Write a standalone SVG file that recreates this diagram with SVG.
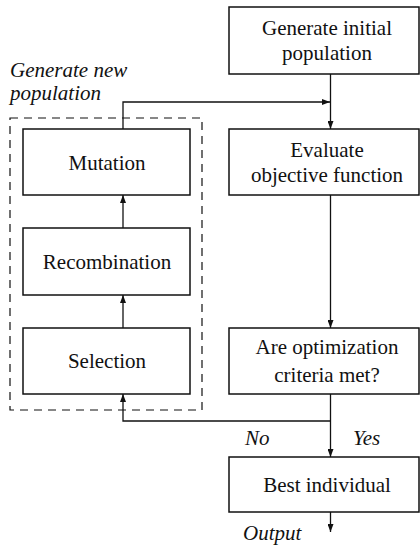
<svg xmlns="http://www.w3.org/2000/svg" width="420" height="547" viewBox="0 0 420 547">
<style>
.box{fill:#fff;stroke:#111;stroke-width:1.5}
.c{fill:none;stroke:#111;stroke-width:1.3}
.dash{fill:none;stroke:#111;stroke-width:1.2;stroke-dasharray:8 6}
</style>
<defs>
<marker id="ah" markerWidth="8" markerHeight="6" refX="8" refY="3" orient="auto" markerUnits="userSpaceOnUse">
<path d="M0,0 L8,3 L0,6 Z" fill="#111"/>
</marker>
</defs>
<g id="group-new-population">
<rect class="dash" x="10" y="118" width="192" height="292"/>
<text x="10" y="77" style="font-family:'Liberation Serif';font-size:21px;font-style:italic" fill="#111">Generate new</text>
<text x="10" y="100" style="font-family:'Liberation Serif';font-size:21px;font-style:italic" fill="#111">population</text>
</g>
<g id="connectors">
<line class="c" x1="330.5" y1="74" x2="330.5" y2="129" marker-end="url(#ah)"/>
<polyline class="c" points="123,129 123,102 330,102" marker-end="url(#ah)"/>
<line class="c" x1="330.5" y1="195" x2="330.5" y2="328" marker-end="url(#ah)"/>
<line class="c" x1="330.5" y1="394" x2="330.5" y2="457" marker-end="url(#ah)"/>
<polyline class="c" points="330.5,421 123,421 123,394" marker-end="url(#ah)"/>
<line class="c" x1="123" y1="328" x2="123" y2="295" marker-end="url(#ah)"/>
<line class="c" x1="123" y1="228" x2="123" y2="195" marker-end="url(#ah)"/>
<line class="c" x1="330.5" y1="512" x2="330.5" y2="532" marker-end="url(#ah)"/>
<text x="245" y="445" style="font-family:'Liberation Serif';font-size:21px;font-style:italic" fill="#111">No</text>
<text x="353" y="445" style="font-family:'Liberation Serif';font-size:21px;font-style:italic" fill="#111">Yes</text>
<text x="243" y="540" style="font-family:'Liberation Serif';font-size:21px;font-style:italic" fill="#111">Output</text>
</g>
<g id="generate-initial">
<rect class="box" x="229" y="7" width="190" height="67"/>
<text x="327" y="35" style="font-family:'Liberation Serif';font-size:21px" text-anchor="middle" fill="#111">Generate initial</text>
<text x="327" y="60" style="font-family:'Liberation Serif';font-size:21px" text-anchor="middle" fill="#111">population</text>
</g>
<g id="evaluate">
<rect class="box" x="229" y="129" width="190" height="66"/>
<text x="327" y="157" style="font-family:'Liberation Serif';font-size:21px" text-anchor="middle" fill="#111">Evaluate</text>
<text x="327" y="182" style="font-family:'Liberation Serif';font-size:21px" text-anchor="middle" fill="#111">objective function</text>
</g>
<g id="criteria">
<rect class="box" x="229" y="328" width="190" height="66"/>
<text x="327" y="354" style="font-family:'Liberation Serif';font-size:21px" text-anchor="middle" fill="#111">Are optimization</text>
<text x="327" y="382" style="font-family:'Liberation Serif';font-size:21px" text-anchor="middle" fill="#111">criteria met?</text>
</g>
<g id="best">
<rect class="box" x="229" y="457" width="190" height="55"/>
<text x="327" y="492" style="font-family:'Liberation Serif';font-size:21px" text-anchor="middle" fill="#111">Best individual</text>
</g>
<g id="mutation">
<rect class="box" x="23" y="129" width="167" height="66"/>
<text x="107" y="170" style="font-family:'Liberation Serif';font-size:21px" text-anchor="middle" fill="#111">Mutation</text>
</g>
<g id="recombination">
<rect class="box" x="23" y="228" width="167" height="67"/>
<text x="107" y="269" style="font-family:'Liberation Serif';font-size:21px" text-anchor="middle" fill="#111">Recombination</text>
</g>
<g id="selection">
<rect class="box" x="23" y="328" width="167" height="66"/>
<text x="107" y="368" style="font-family:'Liberation Serif';font-size:21px" text-anchor="middle" fill="#111">Selection</text>
</g>
</svg>
